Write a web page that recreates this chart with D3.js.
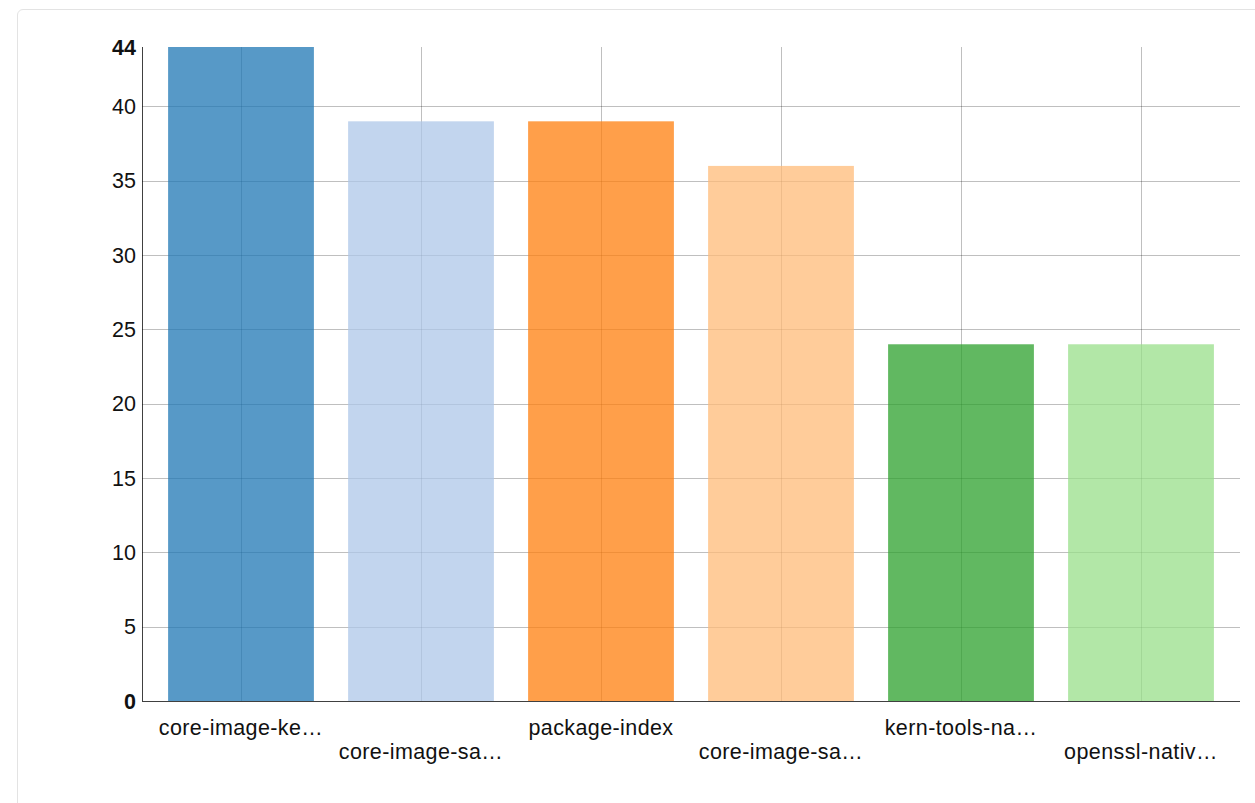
<!DOCTYPE html>
<html>
<head>
<meta charset="utf-8">
<script src="https://cdn.jsdelivr.net/npm/d3@7"></script>
<style>
  body { margin: 0; background: #fff; overflow: hidden; }
  .panel {
    position: absolute; left: 17px; top: 9px;
    width: 1300px; height: 900px;
    border: 1px solid #e3e3e3; border-radius: 6px;
  }
  svg { position: absolute; left: 0; top: 0; }
  text { font-family: "Liberation Sans", Arial, Helvetica, sans-serif; font-size: 21.5px; fill: #111; }
  .xlabel { letter-spacing: 0.4px; }
  .grid line { stroke: #000; stroke-opacity: .25; shape-rendering: crispEdges; }
  .domain { stroke: #000; stroke-opacity: .75; fill: none; shape-rendering: crispEdges; }
  .bar { fill-opacity: .75; }
</style>
</head>
<body>
<div class="panel"></div>
<svg id="chart" width="1255" height="803"></svg>
<script>
'use strict';

var labels = ["core-image-ke\u2026", "core-image-sa\u2026", "package-index", "core-image-sa\u2026", "kern-tools-na\u2026", "openssl-nativ\u2026"];
var values = [44, 39, 39, 36, 24, 24];
var colors = ["#1f77b4", "#aec7e8", "#ff7f0e", "#ffbb78", "#2ca02c", "#98df8a"];
var yTicks = [5, 10, 15, 20, 25, 30, 35, 40];
var yMaxMin = [0, 44];

var margin = {left: 142, top: 47};
var width = 1098, height = 654;

var svg = d3.select("#chart");
var g = svg.append("g").attr("transform", "translate(" + margin.left + "," + margin.top + ")");

var ids = d3.range(labels.length);
var x = d3.scaleBand().domain(ids).range([0, width]).paddingInner(0.1).paddingOuter(0.1);
var y = d3.scaleLinear().domain([0, 44]).range([height, 0]);

// vertical grid lines at band centres
g.append("g").attr("class", "grid")
    .selectAll("line")
    .data(ids)
    .enter().append("line")
    .attr("x1", function(d) { return Math.round(x(d) + x.bandwidth() / 2) + 0.5; })
    .attr("x2", function(d) { return Math.round(x(d) + x.bandwidth() / 2) + 0.5; })
    .attr("y1", 0)
    .attr("y2", height);

// horizontal grid lines
g.append("g").attr("class", "grid")
    .selectAll("line")
    .data(yTicks)
    .enter().append("line")
    .attr("x1", 0)
    .attr("x2", width)
    .attr("y1", function(d) { return Math.round(y(d)) + 0.5; })
    .attr("y2", function(d) { return Math.round(y(d)) + 0.5; });

// bars
g.append("g")
    .selectAll("rect")
    .data(values)
    .enter().append("rect")
    .attr("class", "bar")
    .attr("x", function(d, i) { return x(i) + x.bandwidth() * 0.05; })
    .attr("width", x.bandwidth() * 0.9)
    .attr("y", function(d) { return y(d); })
    .attr("height", function(d) { return height - y(d); })
    .style("fill", function(d, i) { return colors[i]; });

// axis lines
g.append("path").attr("class", "domain")
    .attr("d", "M0.5,0V" + height);
g.append("path").attr("class", "domain")
    .attr("d", "M0," + (height + 0.5) + "H" + width);

// y tick labels
g.append("g")
    .selectAll("text")
    .data(yTicks.concat(yMaxMin))
    .enter().append("text")
    .attr("x", -6)
    .attr("y", function(d) { return y(d); })
    .attr("dy", "0.35em")
    .attr("text-anchor", "end")
    .style("font-weight", function(d) { return yMaxMin.indexOf(d) >= 0 ? "bold" : "normal"; })
    .text(function(d) { return d; });

// staggered x labels
g.append("g")
    .selectAll("text")
    .data(labels)
    .enter().append("text")
    .attr("class", "xlabel")
    .attr("x", function(d, i) { return x(i) + x.bandwidth() / 2; })
    .attr("y", function(d, i) { return height + (i % 2 === 0 ? 34 : 58); })
    .attr("text-anchor", "middle")
    .text(function(d) { return d; });
</script>
</body>
</html>
